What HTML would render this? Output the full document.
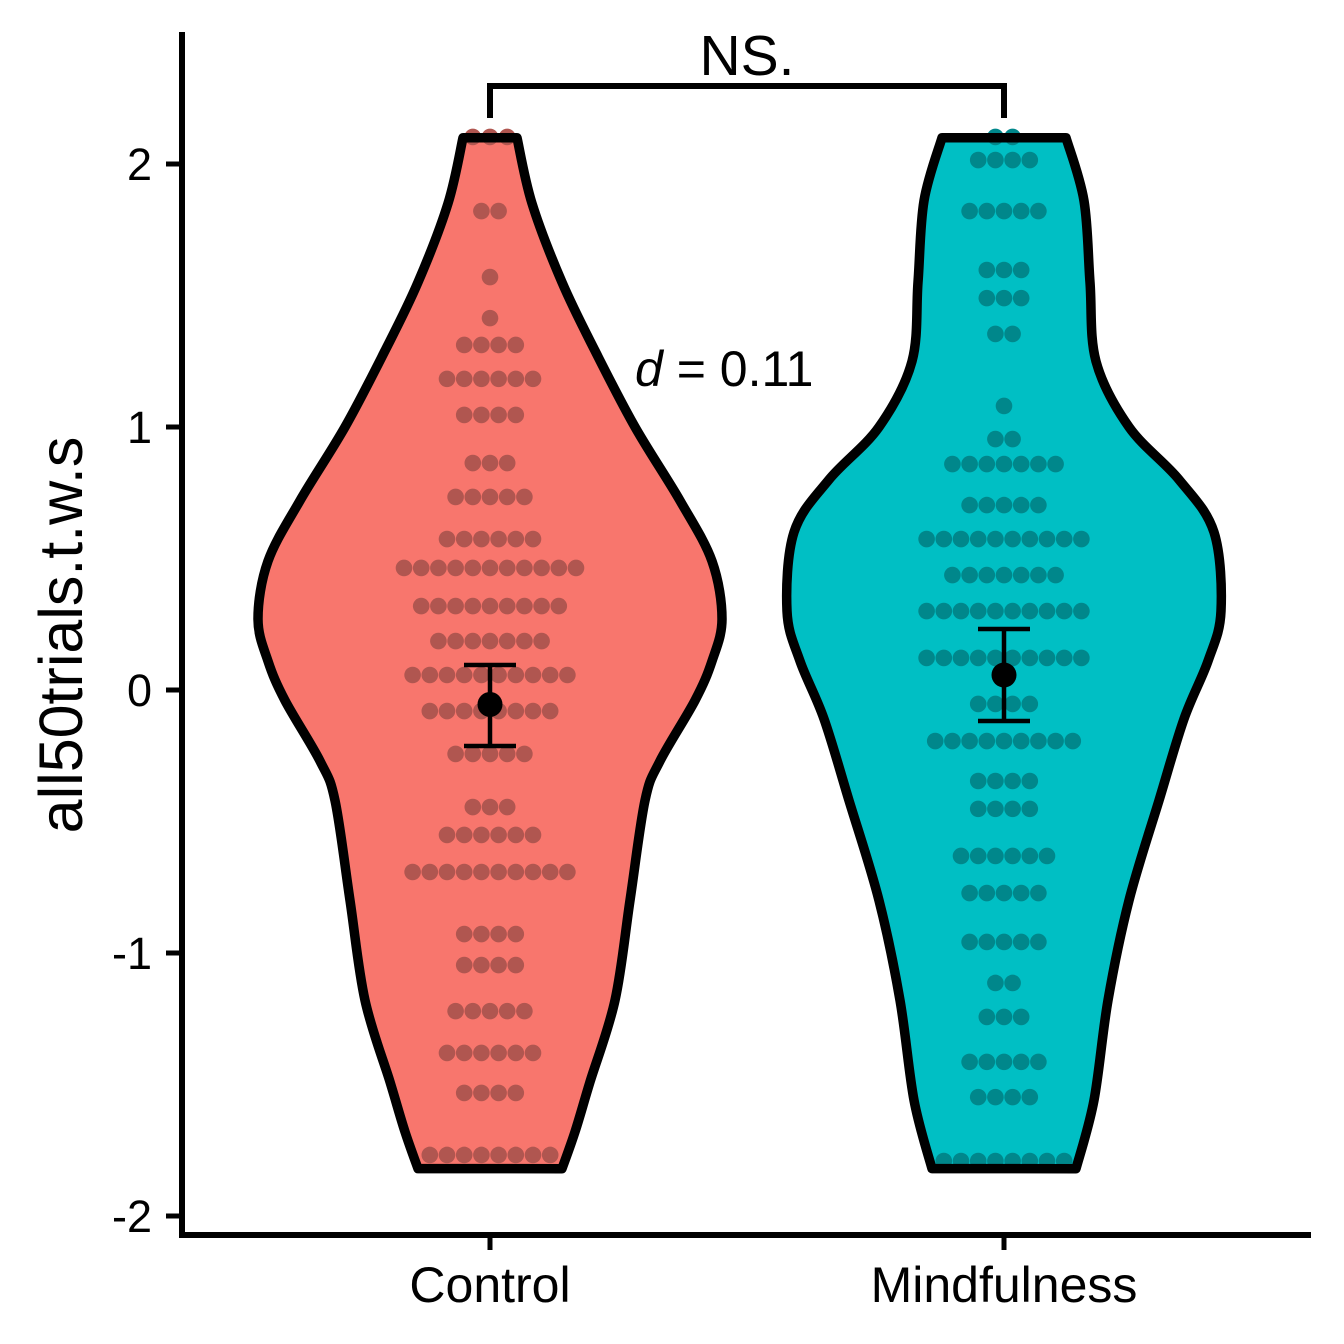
<!DOCTYPE html>
<html><head><meta charset="utf-8"><style>
html,body{margin:0;padding:0;background:#fff;}
svg{display:block;font-family:"Liberation Sans",Arial,sans-serif;}
</style></head><body>
<svg id="chart" width="1344" height="1344" viewBox="0 0 1344 1344">
<rect width="1344" height="1344" fill="#fff"/>
<g id="plot"></g>
</svg>
<script>
const categories = ["Control", "Mindfulness"];
const yTicks = [2, 1, 0, -1, -2];
const yTickLabels = ["2", "1", "0", "-1", "-2"];
const controlDotValues = [2.103,1.821,1.570,1.414,1.312,1.183,1.046,0.863,0.734,0.574,0.464,0.319,0.186,0.057,-0.080,-0.243,-0.445,-0.551,-0.692,-0.928,-1.046,-1.221,-1.380,-1.532,-1.768];
const controlDotCounts = [3,2,1,1,4,6,4,3,5,6,11,9,7,10,8,5,3,6,10,4,4,5,6,4,8];
const mindDotValues = [2.103,2.015,1.821,1.597,1.490,1.354,1.080,0.954,0.859,0.703,0.574,0.437,0.300,0.122,-0.053,-0.194,-0.346,-0.452,-0.631,-0.772,-0.958,-1.114,-1.243,-1.414,-1.548,-1.791];
const mindDotCounts = [2,4,5,3,3,2,1,2,7,5,10,7,10,10,4,9,4,4,6,5,5,2,3,5,4,8];
const means = [-0.055, 0.057];
const errLow = [-0.213, -0.118];
const errHigh = [0.095, 0.232];
const controlViolinValues = [2.1,1.85,1.55,1.29,1.0,0.72,0.49,0.27,0.11,-0.04,-0.27,-0.42,-0.80,-1.18,-1.49,-1.68,-1.82];
const controlViolinWidths = [27,42,72,105,145,190,222,232,222,205,170,155,140,125,100,85,72];
const mindViolinValues = [2.1,1.86,1.55,1.25,1.0,0.80,0.60,0.30,0.11,-0.11,-0.42,-0.80,-1.18,-1.56,-1.82];
const mindViolinWidths = [62,80,86,92,125,175,210,217,204,180,155,125,104,90,72];

const NS="http://www.w3.org/2000/svg";
const plot=document.getElementById('plot');
const y0=690, unit=263;
function yScale(v){return y0 - v*unit;}
function xScale(i){return 490 + i*514;}
function mk(tag,attrs,parent){const e=document.createElementNS(NS,tag);for(const k in attrs)e.setAttribute(k,attrs[k]);(parent||plot).appendChild(e);return e;}

function smoothPath(pts){
  let d="M"+pts[0][0]+","+pts[0][1];
  for(let i=0;i<pts.length-1;i++){
    const p0=pts[Math.max(0,i-1)],p1=pts[i],p2=pts[i+1],p3=pts[Math.min(pts.length-1,i+2)];
    const c1=[p1[0]+(p2[0]-p0[0])/6,p1[1]+(p2[1]-p0[1])/6];
    const c2=[p2[0]-(p3[0]-p1[0])/6,p2[1]-(p3[1]-p1[1])/6];
    d+=" C"+c1[0].toFixed(1)+","+c1[1].toFixed(1)+" "+c2[0].toFixed(1)+","+c2[1].toFixed(1)+" "+p2[0].toFixed(1)+","+p2[1].toFixed(1);
  }
  return d;
}
function violinPath(i,vals,ws){
  const cx=xScale(i);
  const right=vals.map((v,k)=>[cx+ws[k],yScale(v)]);
  const left=vals.map((v,k)=>[cx-ws[k],yScale(v)]).reverse();
  let d=smoothPath(right);
  d+=" L"+left[0][0]+","+left[0][1];
  d+=smoothPath(left).replace(/^M[^ ]+/,"");
  return d+" Z";
}
const fills=["#F8766D","#00BFC4"], dotCols=["#B05650","#00878B"];
const groups=[[controlViolinValues,controlViolinWidths,controlDotValues,controlDotCounts],[mindViolinValues,mindViolinWidths,mindDotValues,mindDotCounts]];
groups.forEach((g,i)=>{
  const p=violinPath(i,g[0],g[1]);
  const vf=mk('path',{d:p,fill:fills[i],stroke:'none'});
  
  
  g[2].forEach((v,k)=>{
    const n=g[3][k];
    for(let j=0;j<n;j++){
      const c=mk('circle',{cx:xScale(i)+(j-(n-1)/2)*17.2,cy:yScale(v),r:8.3,fill:dotCols[i]});
      
      
    }
  });
  const vo=mk('path',{d:p,fill:'none',stroke:'#000','stroke-width':9.5,'stroke-linejoin':'round'});
  
  
  const cx=xScale(i);
  const eb=mk('path',{d:`M${cx-26},${yScale(errHigh[i])} H${cx+26} M${cx},${yScale(errHigh[i])} V${yScale(errLow[i])} M${cx-26},${yScale(errLow[i])} H${cx+26}`,stroke:'#000','stroke-width':4.5,fill:'none'});
  
  
  const m=mk('circle',{cx:cx,cy:yScale(means[i]),r:12.5,fill:'#000'});
  
  
  const xt=mk('line',{x1:cx,x2:cx,y1:1235,y2:1250,stroke:'#000','stroke-width':5});
  
  
  const xl=mk('text',{x:cx,y:1302,'font-size':50,'text-anchor':'middle',fill:'#000'});
  xl.textContent=categories[i];
  
  
});
yTicks.forEach((v,k)=>{
  const t=mk('line',{x1:166,x2:182,y1:yScale(v),y2:yScale(v),stroke:'#000','stroke-width':5});
  
  
  const l=mk('text',{x:152,y:yScale(v)+16,'font-size':45,'text-anchor':'end',fill:'#000'});
  l.textContent=yTickLabels[k];
  
  
});
const ya=mk('line',{x1:182,x2:182,y1:32,y2:1238,stroke:'#000','stroke-width':6});


const xa=mk('line',{x1:179,x2:1311,y1:1235,y2:1235,stroke:'#000','stroke-width':6});


const yt=mk('text',{x:0,y:0,'font-size':61,'text-anchor':'middle',fill:'#000',transform:'translate(82,635) rotate(-90)'});
yt.textContent='all50trials.t.w.s';


const br=mk('path',{d:'M490,118 V86 H1004 V118',stroke:'#000','stroke-width':6,fill:'none'});


const ns=mk('text',{x:747,y:75,'font-size':57,'text-anchor':'middle',fill:'#000'});
ns.textContent='NS.';


const dt=mk('text',{x:635,y:386,'font-size':50,fill:'#000'});
dt.innerHTML='<tspan font-style="italic">d</tspan> = 0.11';


</script>
</body></html>
